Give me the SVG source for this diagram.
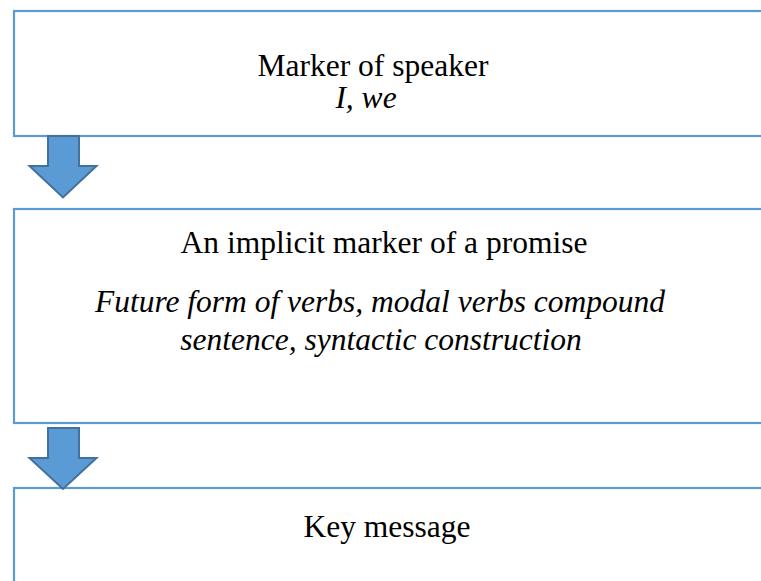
<svg xmlns="http://www.w3.org/2000/svg" width="761" height="581" viewBox="0 0 761 581">
  <style>
    .box { fill: #ffffff; stroke: #5b9bd5; stroke-width: 2.2; }
    .arrow { fill: #5b9bd5; stroke: #41719c; stroke-width: 2; stroke-linejoin: miter; }
    .t { font-family: "Liberation Serif", "Times New Roman", serif; font-size: 31.5px; fill: #000000; text-anchor: middle; }
    .i { font-style: italic; }
  </style>
  <rect width="761" height="581" fill="#ffffff"/>

  <g id="node-speaker">
    <rect class="box" x="14" y="11" width="800" height="125"/>
    <text class="t" x="373" y="76">Marker of speaker</text>
    <text class="t i" x="366" y="108">I, we</text>
  </g>

  <g id="node-promise">
    <rect class="box" x="14" y="209" width="800" height="214"/>
    <text class="t" x="384" y="253">An implicit marker of a promise</text>
    <text class="t i" x="380" y="312">Future form of verbs, modal verbs compound</text>
    <text class="t i" x="381" y="350">sentence, syntactic construction</text>
  </g>

  <g id="node-message">
    <rect class="box" x="14" y="488" width="800" height="200"/>
    <text class="t" x="387" y="537">Key message</text>
  </g>

  <g id="connectors">
    <polygon class="arrow" points="48,136 79,136 79,166 96.5,166 63,197.5 29.5,166 48,166"/>
    <polygon class="arrow" points="48,428 79,428 79,458 96.5,458 63,489 29.5,458 48,458"/>
  </g>
</svg>
